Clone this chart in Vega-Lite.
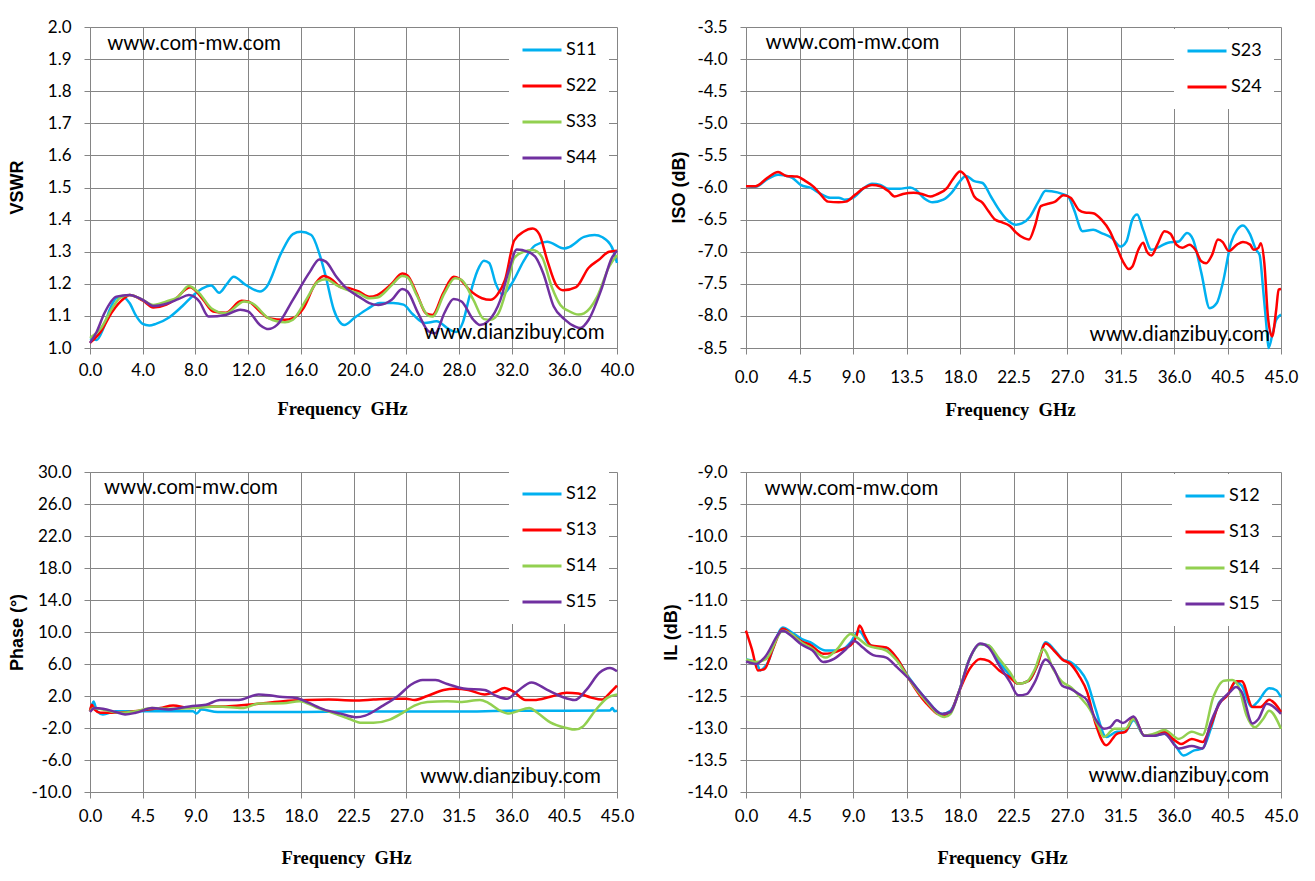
{
  "$schema": "https://vega.github.io/schema/vega-lite/v6.json",
  "description": "Four-port network measurements: VSWR, isolation, phase and insertion loss",
  "padding": {"left": 8, "top": 18, "right": 5, "bottom": 5},
  "background": "white",
  "datasets": {
    "vswr": [
      {"s":"S11","f":0,"v":1.03},{"s":"S11","f":0.5,"v":1.025},{"s":"S11","f":1,"v":1.06},{"s":"S11","f":1.5,"v":1.12},{"s":"S11","f":2,"v":1.155},{"s":"S11","f":2.5,"v":1.16},{"s":"S11","f":3,"v":1.14},{"s":"S11","f":3.5,"v":1.1},{"s":"S11","f":4,"v":1.075},{"s":"S11","f":4.5,"v":1.07},{"s":"S11","f":5,"v":1.075},{"s":"S11","f":6,"v":1.095},{"s":"S11","f":7,"v":1.13},{"s":"S11","f":8,"v":1.17},{"s":"S11","f":8.5,"v":1.185},{"s":"S11","f":9.2,"v":1.195},{"s":"S11","f":9.8,"v":1.172},{"s":"S11","f":10.4,"v":1.2},{"s":"S11","f":10.9,"v":1.222},{"s":"S11","f":11.8,"v":1.197},{"s":"S11","f":12.9,"v":1.176},{"s":"S11","f":13.4,"v":1.19},{"s":"S11","f":14.5,"v":1.295},{"s":"S11","f":15.4,"v":1.355},{"s":"S11","f":16,"v":1.362},{"s":"S11","f":16.8,"v":1.352},{"s":"S11","f":17.4,"v":1.295},{"s":"S11","f":17.9,"v":1.222},{"s":"S11","f":18.5,"v":1.12},{"s":"S11","f":19.3,"v":1.072},{"s":"S11","f":20.1,"v":1.095},{"s":"S11","f":21,"v":1.12},{"s":"S11","f":22,"v":1.14},{"s":"S11","f":23,"v":1.14},{"s":"S11","f":23.8,"v":1.135},{"s":"S11","f":24.5,"v":1.105},{"s":"S11","f":25.4,"v":1.078},{"s":"S11","f":26.3,"v":1.083},{"s":"S11","f":27.3,"v":1.057},{"s":"S11","f":27.8,"v":1.05},{"s":"S11","f":28.3,"v":1.08},{"s":"S11","f":28.8,"v":1.16},{"s":"S11","f":29.4,"v":1.24},{"s":"S11","f":29.9,"v":1.272},{"s":"S11","f":30.3,"v":1.265},{"s":"S11","f":30.8,"v":1.2},{"s":"S11","f":31.3,"v":1.167},{"s":"S11","f":32.1,"v":1.207},{"s":"S11","f":32.9,"v":1.27},{"s":"S11","f":33.8,"v":1.32},{"s":"S11","f":34.7,"v":1.331},{"s":"S11","f":36,"v":1.31},{"s":"S11","f":36.4,"v":1.315},{"s":"S11","f":37.5,"v":1.346},{"s":"S11","f":38.3,"v":1.352},{"s":"S11","f":38.9,"v":1.345},{"s":"S11","f":39.6,"v":1.315},{"s":"S11","f":40,"v":1.265},
      {"s":"S22","f":0,"v":1.016},{"s":"S22","f":0.8,"v":1.05},{"s":"S22","f":1.7,"v":1.114},{"s":"S22","f":2.6,"v":1.155},{"s":"S22","f":3,"v":1.165},{"s":"S22","f":4,"v":1.148},{"s":"S22","f":4.8,"v":1.126},{"s":"S22","f":5.8,"v":1.135},{"s":"S22","f":6.4,"v":1.15},{"s":"S22","f":7.6,"v":1.189},{"s":"S22","f":8.6,"v":1.15},{"s":"S22","f":9.35,"v":1.114},{"s":"S22","f":10.3,"v":1.11},{"s":"S22","f":11.5,"v":1.147},{"s":"S22","f":12,"v":1.145},{"s":"S22","f":12.9,"v":1.114},{"s":"S22","f":13.55,"v":1.093},{"s":"S22","f":14.8,"v":1.088},{"s":"S22","f":15.4,"v":1.093},{"s":"S22","f":16.2,"v":1.124},{"s":"S22","f":17.1,"v":1.2},{"s":"S22","f":17.75,"v":1.224},{"s":"S22","f":18.4,"v":1.212},{"s":"S22","f":19,"v":1.19},{"s":"S22","f":19.8,"v":1.185},{"s":"S22","f":20.4,"v":1.176},{"s":"S22","f":21.2,"v":1.16},{"s":"S22","f":21.8,"v":1.165},{"s":"S22","f":22.9,"v":1.2},{"s":"S22","f":23.7,"v":1.232},{"s":"S22","f":24.1,"v":1.226},{"s":"S22","f":24.8,"v":1.17},{"s":"S22","f":25.5,"v":1.108},{"s":"S22","f":26,"v":1.103},{"s":"S22","f":26.8,"v":1.17},{"s":"S22","f":27.6,"v":1.222},{"s":"S22","f":28,"v":1.217},{"s":"S22","f":28.8,"v":1.181},{"s":"S22","f":29.75,"v":1.155},{"s":"S22","f":30.4,"v":1.15},{"s":"S22","f":30.9,"v":1.165},{"s":"S22","f":31.5,"v":1.212},{"s":"S22","f":32.2,"v":1.335},{"s":"S22","f":32.9,"v":1.362},{"s":"S22","f":33.6,"v":1.372},{"s":"S22","f":34.1,"v":1.355},{"s":"S22","f":34.7,"v":1.274},{"s":"S22","f":35.4,"v":1.195},{"s":"S22","f":35.9,"v":1.18},{"s":"S22","f":36.9,"v":1.19},{"s":"S22","f":37.85,"v":1.25},{"s":"S22","f":38.6,"v":1.274},{"s":"S22","f":39.4,"v":1.3},{"s":"S22","f":40,"v":1.303},
      {"s":"S33","f":0,"v":1.031},{"s":"S33","f":0.8,"v":1.06},{"s":"S33","f":1.7,"v":1.125},{"s":"S33","f":2.3,"v":1.157},{"s":"S33","f":3,"v":1.165},{"s":"S33","f":4,"v":1.15},{"s":"S33","f":4.8,"v":1.134},{"s":"S33","f":5.8,"v":1.145},{"s":"S33","f":6.7,"v":1.16},{"s":"S33","f":7.5,"v":1.193},{"s":"S33","f":8.3,"v":1.17},{"s":"S33","f":9.2,"v":1.124},{"s":"S33","f":10.3,"v":1.108},{"s":"S33","f":11.7,"v":1.145},{"s":"S33","f":12.3,"v":1.14},{"s":"S33","f":13.55,"v":1.093},{"s":"S33","f":14.8,"v":1.08},{"s":"S33","f":15.4,"v":1.088},{"s":"S33","f":16.4,"v":1.15},{"s":"S33","f":17.3,"v":1.207},{"s":"S33","f":17.9,"v":1.214},{"s":"S33","f":18.7,"v":1.196},{"s":"S33","f":19.5,"v":1.181},{"s":"S33","f":20.4,"v":1.17},{"s":"S33","f":21.2,"v":1.155},{"s":"S33","f":21.8,"v":1.157},{"s":"S33","f":22.9,"v":1.196},{"s":"S33","f":23.7,"v":1.224},{"s":"S33","f":24.1,"v":1.22},{"s":"S33","f":24.8,"v":1.165},{"s":"S33","f":25.7,"v":1.1},{"s":"S33","f":26,"v":1.098},{"s":"S33","f":26.9,"v":1.17},{"s":"S33","f":27.7,"v":1.217},{"s":"S33","f":28.2,"v":1.212},{"s":"S33","f":29.1,"v":1.15},{"s":"S33","f":29.9,"v":1.09},{"s":"S33","f":30.4,"v":1.088},{"s":"S33","f":31,"v":1.108},{"s":"S33","f":31.6,"v":1.181},{"s":"S33","f":32.2,"v":1.28},{"s":"S33","f":32.9,"v":1.3},{"s":"S33","f":33.6,"v":1.305},{"s":"S33","f":34.3,"v":1.284},{"s":"S33","f":35.05,"v":1.19},{"s":"S33","f":35.7,"v":1.134},{"s":"S33","f":36.3,"v":1.116},{"s":"S33","f":37.1,"v":1.104},{"s":"S33","f":37.5,"v":1.108},{"s":"S33","f":38.5,"v":1.16},{"s":"S33","f":39.4,"v":1.253},{"s":"S33","f":40,"v":1.29},
      {"s":"S44","f":0,"v":1.016},{"s":"S44","f":0.5,"v":1.05},{"s":"S44","f":1.1,"v":1.109},{"s":"S44","f":2,"v":1.16},{"s":"S44","f":3,"v":1.165},{"s":"S44","f":4,"v":1.15},{"s":"S44","f":4.8,"v":1.131},{"s":"S44","f":5.8,"v":1.138},{"s":"S44","f":6.7,"v":1.152},{"s":"S44","f":7.5,"v":1.165},{"s":"S44","f":8.3,"v":1.145},{"s":"S44","f":9,"v":1.098},{"s":"S44","f":10.3,"v":1.103},{"s":"S44","f":11.4,"v":1.119},{"s":"S44","f":12,"v":1.114},{"s":"S44","f":12.9,"v":1.072},{"s":"S44","f":13.55,"v":1.059},{"s":"S44","f":14.2,"v":1.072},{"s":"S44","f":15.4,"v":1.15},{"s":"S44","f":16.7,"v":1.238},{"s":"S44","f":17.4,"v":1.276},{"s":"S44","f":17.9,"v":1.269},{"s":"S44","f":18.7,"v":1.222},{"s":"S44","f":19.5,"v":1.185},{"s":"S44","f":20.4,"v":1.16},{"s":"S44","f":21.2,"v":1.14},{"s":"S44","f":21.9,"v":1.134},{"s":"S44","f":22.9,"v":1.15},{"s":"S44","f":23.7,"v":1.184},{"s":"S44","f":24.1,"v":1.176},{"s":"S44","f":24.9,"v":1.109},{"s":"S44","f":25.7,"v":1.052},{"s":"S44","f":26.2,"v":1.046},{"s":"S44","f":26.9,"v":1.109},{"s":"S44","f":27.6,"v":1.153},{"s":"S44","f":28.2,"v":1.145},{"s":"S44","f":29.1,"v":1.088},{"s":"S44","f":29.6,"v":1.072},{"s":"S44","f":30.2,"v":1.083},{"s":"S44","f":31.15,"v":1.15},{"s":"S44","f":31.8,"v":1.243},{"s":"S44","f":32.4,"v":1.307},{"s":"S44","f":33.2,"v":1.3},{"s":"S44","f":33.8,"v":1.284},{"s":"S44","f":34.4,"v":1.233},{"s":"S44","f":35.2,"v":1.129},{"s":"S44","f":36,"v":1.09},{"s":"S44","f":36.8,"v":1.067},{"s":"S44","f":37.2,"v":1.062},{"s":"S44","f":37.85,"v":1.088},{"s":"S44","f":38.8,"v":1.181},{"s":"S44","f":39.6,"v":1.28},{"s":"S44","f":40,"v":1.303}
    ],
    "iso": [
      {"s":"S23","f":0,"v":-5.98},{"s":"S23","f":0.8,"v":-5.99},{"s":"S23","f":1.8,"v":-5.87},{"s":"S23","f":2.7,"v":-5.8},{"s":"S23","f":3.2,"v":-5.81},{"s":"S23","f":3.9,"v":-5.85},{"s":"S23","f":4.6,"v":-5.96},{"s":"S23","f":5.5,"v":-6.01},{"s":"S23","f":6.2,"v":-6.09},{"s":"S23","f":7.1,"v":-6.16},{"s":"S23","f":7.8,"v":-6.16},{"s":"S23","f":8.3,"v":-6.19},{"s":"S23","f":9,"v":-6.16},{"s":"S23","f":9.9,"v":-6.01},{"s":"S23","f":10.6,"v":-5.94},{"s":"S23","f":11.3,"v":-5.96},{"s":"S23","f":12,"v":-6.02},{"s":"S23","f":12.9,"v":-6.02},{"s":"S23","f":13.8,"v":-6},{"s":"S23","f":14.3,"v":-6.04},{"s":"S23","f":15,"v":-6.17},{"s":"S23","f":15.7,"v":-6.23},{"s":"S23","f":16.6,"v":-6.19},{"s":"S23","f":17.3,"v":-6.08},{"s":"S23","f":18,"v":-5.9},{"s":"S23","f":18.5,"v":-5.82},{"s":"S23","f":19.2,"v":-5.9},{"s":"S23","f":19.9,"v":-5.93},{"s":"S23","f":20.6,"v":-6.14},{"s":"S23","f":21.3,"v":-6.35},{"s":"S23","f":22,"v":-6.51},{"s":"S23","f":22.7,"v":-6.58},{"s":"S23","f":23.2,"v":-6.56},{"s":"S23","f":23.9,"v":-6.45},{"s":"S23","f":24.6,"v":-6.22},{"s":"S23","f":25.2,"v":-6.05},{"s":"S23","f":25.7,"v":-6.06},{"s":"S23","f":26.6,"v":-6.1},{"s":"S23","f":27.1,"v":-6.14},{"s":"S23","f":27.6,"v":-6.35},{"s":"S23","f":28.3,"v":-6.68},{"s":"S23","f":29.2,"v":-6.66},{"s":"S23","f":29.9,"v":-6.71},{"s":"S23","f":30.8,"v":-6.79},{"s":"S23","f":31.5,"v":-6.92},{"s":"S23","f":32,"v":-6.84},{"s":"S23","f":32.5,"v":-6.5},{"s":"S23","f":32.9,"v":-6.42},{"s":"S23","f":33.4,"v":-6.66},{"s":"S23","f":34.1,"v":-6.97},{"s":"S23","f":34.8,"v":-6.92},{"s":"S23","f":35.5,"v":-6.86},{"s":"S23","f":36.4,"v":-6.84},{"s":"S23","f":37.1,"v":-6.71},{"s":"S23","f":37.6,"v":-6.81},{"s":"S23","f":38.3,"v":-7.33},{"s":"S23","f":39,"v":-7.88},{"s":"S23","f":39.6,"v":-7.8},{"s":"S23","f":40.1,"v":-7.49},{"s":"S23","f":40.8,"v":-6.86},{"s":"S23","f":41.3,"v":-6.66},{"s":"S23","f":41.8,"v":-6.59},{"s":"S23","f":42.4,"v":-6.73},{"s":"S23","f":42.9,"v":-6.97},{"s":"S23","f":43.2,"v":-7.05},{"s":"S23","f":43.5,"v":-7.59},{"s":"S23","f":43.8,"v":-8.21},{"s":"S23","f":43.95,"v":-8.5},{"s":"S23","f":44.3,"v":-8.27},{"s":"S23","f":44.6,"v":-8.06},{"s":"S23","f":45,"v":-7.98},
      {"s":"S24","f":0,"v":-5.98},{"s":"S24","f":0.8,"v":-5.98},{"s":"S24","f":1.8,"v":-5.85},{"s":"S24","f":2.7,"v":-5.76},{"s":"S24","f":3.4,"v":-5.82},{"s":"S24","f":4.3,"v":-5.83},{"s":"S24","f":5,"v":-5.9},{"s":"S24","f":5.7,"v":-5.99},{"s":"S24","f":6.2,"v":-6.09},{"s":"S24","f":6.9,"v":-6.22},{"s":"S24","f":7.8,"v":-6.23},{"s":"S24","f":8.4,"v":-6.22},{"s":"S24","f":9.2,"v":-6.11},{"s":"S24","f":9.9,"v":-6.01},{"s":"S24","f":10.6,"v":-5.96},{"s":"S24","f":11.3,"v":-5.98},{"s":"S24","f":12,"v":-6.06},{"s":"S24","f":12.5,"v":-6.14},{"s":"S24","f":13.2,"v":-6.1},{"s":"S24","f":14.1,"v":-6.08},{"s":"S24","f":14.8,"v":-6.1},{"s":"S24","f":15.5,"v":-6.14},{"s":"S24","f":16,"v":-6.11},{"s":"S24","f":16.9,"v":-6.01},{"s":"S24","f":17.4,"v":-5.87},{"s":"S24","f":18,"v":-5.75},{"s":"S24","f":18.5,"v":-5.83},{"s":"S24","f":19.2,"v":-6.14},{"s":"S24","f":19.9,"v":-6.24},{"s":"S24","f":20.4,"v":-6.37},{"s":"S24","f":20.95,"v":-6.5},{"s":"S24","f":21.5,"v":-6.54},{"s":"S24","f":22.2,"v":-6.6},{"s":"S24","f":22.7,"v":-6.7},{"s":"S24","f":23.4,"v":-6.79},{"s":"S24","f":23.8,"v":-6.81},{"s":"S24","f":24.3,"v":-6.6},{"s":"S24","f":24.8,"v":-6.29},{"s":"S24","f":25.5,"v":-6.25},{"s":"S24","f":26,"v":-6.22},{"s":"S24","f":26.7,"v":-6.12},{"s":"S24","f":27.3,"v":-6.16},{"s":"S24","f":28,"v":-6.35},{"s":"S24","f":28.5,"v":-6.39},{"s":"S24","f":29.2,"v":-6.4},{"s":"S24","f":29.9,"v":-6.5},{"s":"S24","f":30.6,"v":-6.68},{"s":"S24","f":31.1,"v":-6.89},{"s":"S24","f":31.7,"v":-7.15},{"s":"S24","f":32.2,"v":-7.27},{"s":"S24","f":32.5,"v":-7.23},{"s":"S24","f":33,"v":-6.97},{"s":"S24","f":33.4,"v":-6.86},{"s":"S24","f":33.7,"v":-6.99},{"s":"S24","f":34.1,"v":-7.06},{"s":"S24","f":34.6,"v":-6.89},{"s":"S24","f":35.2,"v":-6.68},{"s":"S24","f":35.7,"v":-6.72},{"s":"S24","f":36.2,"v":-6.89},{"s":"S24","f":36.7,"v":-6.94},{"s":"S24","f":37.3,"v":-6.89},{"s":"S24","f":37.8,"v":-6.97},{"s":"S24","f":38.3,"v":-7.15},{"s":"S24","f":38.7,"v":-7.18},{"s":"S24","f":39.2,"v":-7.05},{"s":"S24","f":39.7,"v":-6.81},{"s":"S24","f":40.1,"v":-6.85},{"s":"S24","f":40.6,"v":-6.99},{"s":"S24","f":41.3,"v":-6.89},{"s":"S24","f":41.8,"v":-6.85},{"s":"S24","f":42.4,"v":-6.89},{"s":"S24","f":42.7,"v":-6.97},{"s":"S24","f":43.1,"v":-6.94},{"s":"S24","f":43.3,"v":-6.87},{"s":"S24","f":43.6,"v":-7.18},{"s":"S24","f":43.9,"v":-8.01},{"s":"S24","f":44.25,"v":-8.32},{"s":"S24","f":44.6,"v":-7.9},{"s":"S24","f":44.8,"v":-7.59},{"s":"S24","f":45,"v":-7.58}
    ],
    "phase": [
      {"s":"S12","f":0,"v":0.1},{"s":"S12","f":0.15,"v":0.8},{"s":"S12","f":0.3,"v":1.3},{"s":"S12","f":0.6,"v":0.1},{"s":"S12","f":1.1,"v":-0.3},{"s":"S12","f":2.2,"v":0.1},{"s":"S12","f":4.3,"v":0.1},{"s":"S12","f":6.5,"v":0.1},{"s":"S12","f":8.8,"v":0.1},{"s":"S12","f":9.1,"v":-0.2},{"s":"S12","f":9.5,"v":0.3},{"s":"S12","f":10.9,"v":0},{"s":"S12","f":14,"v":0},{"s":"S12","f":18,"v":0},{"s":"S12","f":22.5,"v":0.05},{"s":"S12","f":27,"v":0.05},{"s":"S12","f":31.5,"v":0.05},{"s":"S12","f":36,"v":0.15},{"s":"S12","f":40.5,"v":0.15},{"s":"S12","f":44.4,"v":0.2},{"s":"S12","f":44.6,"v":0.5},{"s":"S12","f":44.8,"v":0.1},{"s":"S12","f":45,"v":0.15},
      {"s":"S13","f":0,"v":0.1},{"s":"S13","f":0.15,"v":0.9},{"s":"S13","f":0.4,"v":0.3},{"s":"S13","f":0.9,"v":-0.1},{"s":"S13","f":2.5,"v":-0.1},{"s":"S13","f":4.3,"v":0.2},{"s":"S13","f":6,"v":0.5},{"s":"S13","f":7.1,"v":0.8},{"s":"S13","f":8.5,"v":0.5},{"s":"S13","f":10.2,"v":0.7},{"s":"S13","f":11.6,"v":0.7},{"s":"S13","f":13.4,"v":0.9},{"s":"S13","f":14.8,"v":1.1},{"s":"S13","f":16.5,"v":1.35},{"s":"S13","f":18.6,"v":1.5},{"s":"S13","f":20.4,"v":1.55},{"s":"S13","f":22.5,"v":1.45},{"s":"S13","f":24.2,"v":1.55},{"s":"S13","f":25.6,"v":1.65},{"s":"S13","f":27,"v":1.65},{"s":"S13","f":27.7,"v":1.5},{"s":"S13","f":28.8,"v":2},{"s":"S13","f":30.2,"v":2.75},{"s":"S13","f":31.2,"v":2.9},{"s":"S13","f":32.3,"v":2.75},{"s":"S13","f":33.7,"v":2.2},{"s":"S13","f":34.6,"v":2.5},{"s":"S13","f":35.4,"v":3},{"s":"S13","f":36.1,"v":2.6},{"s":"S13","f":37.2,"v":1.5},{"s":"S13","f":37.9,"v":1.5},{"s":"S13","f":39.3,"v":1.9},{"s":"S13","f":40.7,"v":2.4},{"s":"S13","f":41.7,"v":2.3},{"s":"S13","f":42.8,"v":1.8},{"s":"S13","f":43.7,"v":1.55},{"s":"S13","f":44.4,"v":2.4},{"s":"S13","f":45,"v":3.3},
      {"s":"S14","f":0,"v":0.1},{"s":"S14","f":0.3,"v":0.5},{"s":"S14","f":0.8,"v":0.4},{"s":"S14","f":2.5,"v":-0.1},{"s":"S14","f":3.9,"v":0.1},{"s":"S14","f":5.3,"v":0.5},{"s":"S14","f":7.1,"v":0.4},{"s":"S14","f":8.8,"v":0.5},{"s":"S14","f":10.9,"v":0.7},{"s":"S14","f":13,"v":0.5},{"s":"S14","f":14.4,"v":1.05},{"s":"S14","f":16.5,"v":1.1},{"s":"S14","f":17.9,"v":1.35},{"s":"S14","f":19.3,"v":0.6},{"s":"S14","f":20.7,"v":-0.1},{"s":"S14","f":22.1,"v":-0.85},{"s":"S14","f":23.2,"v":-1.35},{"s":"S14","f":24.2,"v":-1.35},{"s":"S14","f":25.6,"v":-0.95},{"s":"S14","f":26.7,"v":-0.1},{"s":"S14","f":27.7,"v":0.8},{"s":"S14","f":28.8,"v":1.25},{"s":"S14","f":30.5,"v":1.35},{"s":"S14","f":31.6,"v":1.25},{"s":"S14","f":33.3,"v":1.5},{"s":"S14","f":34,"v":1.15},{"s":"S14","f":35.1,"v":0.1},{"s":"S14","f":35.8,"v":-0.2},{"s":"S14","f":36.5,"v":0.1},{"s":"S14","f":37.5,"v":0.5},{"s":"S14","f":38.2,"v":-0.1},{"s":"S14","f":39.3,"v":-1.3},{"s":"S14","f":40.7,"v":-2},{"s":"S14","f":41.4,"v":-2.2},{"s":"S14","f":42.1,"v":-1.8},{"s":"S14","f":43.1,"v":0.1},{"s":"S14","f":44.2,"v":1.8},{"s":"S14","f":45,"v":2.2},
      {"s":"S15","f":0,"v":0},{"s":"S15","f":0.4,"v":0.5},{"s":"S15","f":1.1,"v":0.4},{"s":"S15","f":2.2,"v":0},{"s":"S15","f":3,"v":-0.3},{"s":"S15","f":3.9,"v":-0.1},{"s":"S15","f":5.3,"v":0.5},{"s":"S15","f":6.7,"v":0.3},{"s":"S15","f":8.5,"v":0.7},{"s":"S15","f":9.9,"v":0.9},{"s":"S15","f":11.1,"v":1.5},{"s":"S15","f":12.7,"v":1.5},{"s":"S15","f":14.4,"v":2.2},{"s":"S15","f":15.3,"v":2.1},{"s":"S15","f":16.2,"v":1.9},{"s":"S15","f":17.6,"v":1.75},{"s":"S15","f":18.6,"v":1.2},{"s":"S15","f":20,"v":0.3},{"s":"S15","f":21.4,"v":-0.2},{"s":"S15","f":22.7,"v":-0.65},{"s":"S15","f":23.5,"v":-0.45},{"s":"S15","f":24.9,"v":0.7},{"s":"S15","f":26.3,"v":2},{"s":"S15","f":27.4,"v":3.4},{"s":"S15","f":28.4,"v":4},{"s":"S15","f":29.5,"v":4},{"s":"S15","f":30.5,"v":3.5},{"s":"S15","f":31.9,"v":2.95},{"s":"S15","f":33.7,"v":2.75},{"s":"S15","f":34.7,"v":2},{"s":"S15","f":35.6,"v":1.65},{"s":"S15","f":36.5,"v":2.6},{"s":"S15","f":37.7,"v":3.7},{"s":"S15","f":39,"v":2.8},{"s":"S15","f":40.3,"v":1.9},{"s":"S15","f":41.4,"v":1.5},{"s":"S15","f":42.4,"v":2.8},{"s":"S15","f":43.5,"v":4.9},{"s":"S15","f":44.4,"v":5.5},{"s":"S15","f":45,"v":5.1}
    ],
    "il": [
      {"s":"S12","f":0,"v":-11.93},{"s":"S12","f":0.85,"v":-11.97},{"s":"S12","f":1.2,"v":-12.1},{"s":"S12","f":1.7,"v":-12.02},{"s":"S12","f":3.1,"v":-11.43},{"s":"S12","f":3.8,"v":-11.5},{"s":"S12","f":4.7,"v":-11.61},{"s":"S12","f":5.4,"v":-11.66},{"s":"S12","f":6.7,"v":-11.79},{"s":"S12","f":7.4,"v":-11.79},{"s":"S12","f":8.1,"v":-11.77},{"s":"S12","f":8.8,"v":-11.66},{"s":"S12","f":9.5,"v":-11.48},{"s":"S12","f":10.2,"v":-11.66},{"s":"S12","f":10.9,"v":-11.74},{"s":"S12","f":11.8,"v":-11.75},{"s":"S12","f":12.7,"v":-11.92},{"s":"S12","f":13.7,"v":-12.21},{"s":"S12","f":15.1,"v":-12.54},{"s":"S12","f":16.5,"v":-12.78},{"s":"S12","f":17.2,"v":-12.73},{"s":"S12","f":17.9,"v":-12.44},{"s":"S12","f":18.8,"v":-11.92},{"s":"S12","f":19.7,"v":-11.69},{"s":"S12","f":20.4,"v":-11.71},{"s":"S12","f":21.3,"v":-11.97},{"s":"S12","f":22.2,"v":-12.18},{"s":"S12","f":22.9,"v":-12.31},{"s":"S12","f":23.8,"v":-12.26},{"s":"S12","f":24.5,"v":-12.02},{"s":"S12","f":25.2,"v":-11.66},{"s":"S12","f":25.9,"v":-11.77},{"s":"S12","f":26.6,"v":-11.92},{"s":"S12","f":27.3,"v":-11.97},{"s":"S12","f":28,"v":-12.08},{"s":"S12","f":28.7,"v":-12.28},{"s":"S12","f":29.4,"v":-12.7},{"s":"S12","f":30.3,"v":-13.14},{"s":"S12","f":31.2,"v":-13.06},{"s":"S12","f":31.9,"v":-13.06},{"s":"S12","f":32.6,"v":-12.88},{"s":"S12","f":33.5,"v":-13.12},{"s":"S12","f":34.3,"v":-13.12},{"s":"S12","f":35.2,"v":-13.09},{"s":"S12","f":36.1,"v":-13.27},{"s":"S12","f":36.8,"v":-13.43},{"s":"S12","f":37.7,"v":-13.35},{"s":"S12","f":38.4,"v":-13.32},{"s":"S12","f":39.1,"v":-13.01},{"s":"S12","f":39.8,"v":-12.6},{"s":"S12","f":40.5,"v":-12.49},{"s":"S12","f":41.2,"v":-12.28},{"s":"S12","f":41.7,"v":-12.34},{"s":"S12","f":42.5,"v":-12.67},{"s":"S12","f":43,"v":-12.6},{"s":"S12","f":44,"v":-12.38},{"s":"S12","f":44.6,"v":-12.41},{"s":"S12","f":45,"v":-12.52},
      {"s":"S13","f":0,"v":-11.48},{"s":"S13","f":0.5,"v":-11.77},{"s":"S13","f":1,"v":-12.1},{"s":"S13","f":1.55,"v":-12.08},{"s":"S13","f":2.25,"v":-11.77},{"s":"S13","f":3.1,"v":-11.45},{"s":"S13","f":3.8,"v":-11.53},{"s":"S13","f":4.7,"v":-11.65},{"s":"S13","f":5.4,"v":-11.7},{"s":"S13","f":6.5,"v":-11.84},{"s":"S13","f":7.2,"v":-11.83},{"s":"S13","f":8.1,"v":-11.77},{"s":"S13","f":8.8,"v":-11.71},{"s":"S13","f":9.3,"v":-11.56},{"s":"S13","f":9.55,"v":-11.4},{"s":"S13","f":10,"v":-11.56},{"s":"S13","f":10.5,"v":-11.71},{"s":"S13","f":11.8,"v":-11.74},{"s":"S13","f":12.7,"v":-11.91},{"s":"S13","f":13.7,"v":-12.23},{"s":"S13","f":15.1,"v":-12.6},{"s":"S13","f":16.5,"v":-12.8},{"s":"S13","f":17.2,"v":-12.75},{"s":"S13","f":17.9,"v":-12.44},{"s":"S13","f":18.8,"v":-12.08},{"s":"S13","f":19.7,"v":-11.92},{"s":"S13","f":20.4,"v":-11.95},{"s":"S13","f":21.3,"v":-12.1},{"s":"S13","f":22.2,"v":-12.21},{"s":"S13","f":22.9,"v":-12.31},{"s":"S13","f":23.8,"v":-12.26},{"s":"S13","f":24.5,"v":-12.02},{"s":"S13","f":25.2,"v":-11.68},{"s":"S13","f":25.9,"v":-11.79},{"s":"S13","f":26.6,"v":-11.93},{"s":"S13","f":27.3,"v":-12},{"s":"S13","f":28,"v":-12.18},{"s":"S13","f":28.7,"v":-12.44},{"s":"S13","f":29.4,"v":-12.93},{"s":"S13","f":30.3,"v":-13.27},{"s":"S13","f":31.2,"v":-13.09},{"s":"S13","f":31.9,"v":-13.06},{"s":"S13","f":32.6,"v":-12.83},{"s":"S13","f":33.5,"v":-13.12},{"s":"S13","f":34.3,"v":-13.12},{"s":"S13","f":35.2,"v":-13.06},{"s":"S13","f":35.9,"v":-13.17},{"s":"S13","f":36.6,"v":-13.25},{"s":"S13","f":37.5,"v":-13.17},{"s":"S13","f":38.4,"v":-13.22},{"s":"S13","f":39.1,"v":-12.96},{"s":"S13","f":39.8,"v":-12.62},{"s":"S13","f":40.5,"v":-12.49},{"s":"S13","f":41.2,"v":-12.27},{"s":"S13","f":41.7,"v":-12.27},{"s":"S13","f":42.6,"v":-12.67},{"s":"S13","f":43.3,"v":-12.67},{"s":"S13","f":44,"v":-12.56},{"s":"S13","f":45,"v":-12.75},
      {"s":"S14","f":0,"v":-11.93},{"s":"S14","f":0.85,"v":-11.97},{"s":"S14","f":1.7,"v":-11.92},{"s":"S14","f":3.1,"v":-11.48},{"s":"S14","f":3.8,"v":-11.53},{"s":"S14","f":4.7,"v":-11.67},{"s":"S14","f":5.4,"v":-11.74},{"s":"S14","f":6.7,"v":-11.9},{"s":"S14","f":7.7,"v":-11.76},{"s":"S14","f":8.8,"v":-11.53},{"s":"S14","f":9.3,"v":-11.58},{"s":"S14","f":10.2,"v":-11.71},{"s":"S14","f":11.8,"v":-11.79},{"s":"S14","f":12.7,"v":-11.95},{"s":"S14","f":13.7,"v":-12.23},{"s":"S14","f":15.1,"v":-12.57},{"s":"S14","f":16.7,"v":-12.83},{"s":"S14","f":17.2,"v":-12.78},{"s":"S14","f":17.9,"v":-12.44},{"s":"S14","f":18.8,"v":-11.92},{"s":"S14","f":19.7,"v":-11.69},{"s":"S14","f":20.4,"v":-11.71},{"s":"S14","f":21.3,"v":-11.92},{"s":"S14","f":22.2,"v":-12.13},{"s":"S14","f":22.9,"v":-12.31},{"s":"S14","f":23.6,"v":-12.28},{"s":"S14","f":24.3,"v":-12.08},{"s":"S14","f":25,"v":-11.77},{"s":"S14","f":25.9,"v":-12.1},{"s":"S14","f":26.6,"v":-12.28},{"s":"S14","f":27.3,"v":-12.36},{"s":"S14","f":28.2,"v":-12.54},{"s":"S14","f":28.9,"v":-12.7},{"s":"S14","f":29.6,"v":-12.96},{"s":"S14","f":30.1,"v":-13.14},{"s":"S14","f":31,"v":-13.01},{"s":"S14","f":31.9,"v":-13.01},{"s":"S14","f":32.6,"v":-12.86},{"s":"S14","f":33.5,"v":-13.12},{"s":"S14","f":34.3,"v":-13.09},{"s":"S14","f":35.2,"v":-13.03},{"s":"S14","f":36.4,"v":-13.17},{"s":"S14","f":37.5,"v":-13.06},{"s":"S14","f":38.4,"v":-13.11},{"s":"S14","f":39.3,"v":-12.52},{"s":"S14","f":40.2,"v":-12.26},{"s":"S14","f":40.9,"v":-12.25},{"s":"S14","f":41.4,"v":-12.34},{"s":"S14","f":42.1,"v":-12.8},{"s":"S14","f":42.8,"v":-12.99},{"s":"S14","f":43.5,"v":-12.86},{"s":"S14","f":44,"v":-12.73},{"s":"S14","f":45,"v":-13.01},
      {"s":"S15","f":0,"v":-11.96},{"s":"S15","f":0.85,"v":-12},{"s":"S15","f":1.55,"v":-11.9},{"s":"S15","f":3.1,"v":-11.48},{"s":"S15","f":3.8,"v":-11.56},{"s":"S15","f":4.7,"v":-11.7},{"s":"S15","f":5.6,"v":-11.79},{"s":"S15","f":6.5,"v":-11.97},{"s":"S15","f":7.4,"v":-11.92},{"s":"S15","f":8.4,"v":-11.77},{"s":"S15","f":9.1,"v":-11.64},{"s":"S15","f":9.8,"v":-11.74},{"s":"S15","f":10.7,"v":-11.86},{"s":"S15","f":11.8,"v":-11.9},{"s":"S15","f":12.7,"v":-12.05},{"s":"S15","f":13.7,"v":-12.23},{"s":"S15","f":15.1,"v":-12.54},{"s":"S15","f":16.5,"v":-12.78},{"s":"S15","f":17.2,"v":-12.75},{"s":"S15","f":17.9,"v":-12.44},{"s":"S15","f":18.8,"v":-11.92},{"s":"S15","f":19.7,"v":-11.68},{"s":"S15","f":20.4,"v":-11.74},{"s":"S15","f":21.3,"v":-12.02},{"s":"S15","f":22.2,"v":-12.28},{"s":"S15","f":22.9,"v":-12.49},{"s":"S15","f":23.6,"v":-12.47},{"s":"S15","f":24.3,"v":-12.28},{"s":"S15","f":25.2,"v":-11.93},{"s":"S15","f":25.9,"v":-12.08},{"s":"S15","f":26.6,"v":-12.34},{"s":"S15","f":27.3,"v":-12.39},{"s":"S15","f":28,"v":-12.47},{"s":"S15","f":28.7,"v":-12.57},{"s":"S15","f":29.4,"v":-12.86},{"s":"S15","f":30.1,"v":-13.01},{"s":"S15","f":30.6,"v":-12.99},{"s":"S15","f":31.2,"v":-12.88},{"s":"S15","f":31.7,"v":-12.92},{"s":"S15","f":32.6,"v":-12.82},{"s":"S15","f":33.5,"v":-13.12},{"s":"S15","f":34.3,"v":-13.12},{"s":"S15","f":35.2,"v":-13.09},{"s":"S15","f":36.4,"v":-13.32},{"s":"S15","f":37.5,"v":-13.28},{"s":"S15","f":38.4,"v":-13.32},{"s":"S15","f":39.1,"v":-12.91},{"s":"S15","f":40,"v":-12.57},{"s":"S15","f":40.7,"v":-12.44},{"s":"S15","f":41.2,"v":-12.36},{"s":"S15","f":41.7,"v":-12.44},{"s":"S15","f":42.6,"v":-12.93},{"s":"S15","f":43.1,"v":-12.86},{"s":"S15","f":43.8,"v":-12.62},{"s":"S15","f":45,"v":-12.78}
    ]
  },
  "columns": 2,
  "spacing": {"row": 124, "column": 129},
  "bounds": "flush",
  "resolve": {"scale": {"color": "independent"}, "legend": {"color": "independent"}},
  "concat": [
    {
      "width": 527,
      "height": 321,
      "encoding": {
        "x": {"field": "f", "type": "quantitative", "scale": {"domain": [0, 40], "nice": false, "zero": false},
          "axis": {"values": [0, 4, 8, 12, 16, 20, 24, 28, 32, 36, 40], "format": ".1f", "title": "Frequency\u00a0\u00a0GHz", "labelPadding": 8, "titleX": 252, "titleY": 60, "titleAlign": "center", "titleBaseline": "middle"}},
        "y": {"field": "v", "type": "quantitative", "scale": {"domain": [1, 2], "nice": false, "zero": false},
          "axis": {"values": [1, 1.1, 1.2, 1.3, 1.4, 1.5, 1.6, 1.7, 1.8, 1.9, 2], "format": ".1f", "title": "VSWR", "titleX": -73, "titleY": 160, "titleBaseline": "middle", "titleAlign": "center"}}
      },
      "layer": [
        {
          "data": {"name": "vswr"},
          "mark": {"type": "line", "strokeWidth": 2.5, "interpolate": "monotone"},
          "encoding": {
            "color": {"field": "s", "type": "nominal",
              "scale": {"domain": ["S11", "S22", "S33", "S44"], "range": ["#00B0F0", "#FF0000", "#92D050", "#7030A0"]},
              "legend": {"orient": "none", "legendX": 419, "legendY": 1}}
          }
        },
        {
          "data": {"values": [{"f": 1.3, "v": 1.948, "t": "www.com-mw.com"}, {"f": 25.35, "v": 1.048, "t": "www.dianzibuy.com"}]},
          "mark": {"type": "text", "align": "left", "baseline": "middle", "font": "Lato", "fontSize": 20.5, "color": "#000000"},
          "encoding": {"text": {"field": "t"}}
        }
      ]
    },
    {
      "width": 535,
      "height": 321,
      "encoding": {
        "x": {"field": "f", "type": "quantitative", "scale": {"domain": [0, 45], "nice": false, "zero": false},
          "axis": {"values": [0, 4.5, 9, 13.5, 18, 22.5, 27, 31.5, 36, 40.5, 45], "format": ".1f", "title": "Frequency\u00a0\u00a0GHz", "labelPadding": 15, "titleX": 264, "titleY": 61, "titleAlign": "center", "titleBaseline": "middle"}},
        "y": {"field": "v", "type": "quantitative", "scale": {"domain": [-8.5, -3.5], "nice": false, "zero": false},
          "axis": {"values": [-8.5, -8, -7.5, -7, -6.5, -6, -5.5, -5, -4.5, -4, -3.5], "format": ".1f", "title": "ISO (dB)", "titleX": -67, "titleY": 160, "titleBaseline": "middle", "titleAlign": "center"}}
      },
      "layer": [
        {
          "data": {"name": "iso"},
          "mark": {"type": "line", "strokeWidth": 2.5, "interpolate": "monotone"},
          "encoding": {
            "color": {"field": "s", "type": "nominal",
              "scale": {"domain": ["S23", "S24"], "range": ["#00B0F0", "#FF0000"]},
              "legend": {"orient": "none", "legendX": 428, "legendY": 2}}
          }
        },
        {
          "data": {"values": [{"f": 1.65, "v": -3.75, "t": "www.com-mw.com"}, {"f": 28.9, "v": -8.29, "t": "www.dianzibuy.com"}]},
          "mark": {"type": "text", "align": "left", "baseline": "middle", "font": "Lato", "fontSize": 20.5, "color": "#000000"},
          "encoding": {"text": {"field": "t"}}
        }
      ]
    },
    {
      "width": 527,
      "height": 320,
      "encoding": {
        "x": {"field": "f", "type": "quantitative", "scale": {"domain": [0, 45], "nice": false, "zero": false},
          "axis": {"values": [0, 4.5, 9, 13.5, 18, 22.5, 27, 31.5, 36, 40.5, 45], "format": ".1f", "title": "Frequency\u00a0\u00a0GHz", "labelPadding": 10, "titleX": 256, "titleY": 65, "titleAlign": "center", "titleBaseline": "middle"}},
        "y": {"field": "v", "type": "quantitative", "scale": {"domain": [-10, 30], "nice": false, "zero": false},
          "axis": {"values": [-10, -6, -2, 2, 6, 10, 14, 18, 22, 26, 30], "format": ".1f", "title": "Phase (°)", "titleX": -73, "titleY": 160, "titleBaseline": "middle", "titleAlign": "center"}}
      },
      "layer": [
        {
          "data": {"name": "phase"},
          "mark": {"type": "line", "strokeWidth": 2.5, "interpolate": "monotone"},
          "encoding": {
            "color": {"field": "s", "type": "nominal",
              "scale": {"domain": ["S12", "S13", "S14", "S15"], "range": ["#00B0F0", "#FF0000", "#92D050", "#7030A0"]},
              "legend": {"orient": "none", "legendX": 419, "legendY": 0}}
          }
        },
        {
          "data": {"values": [{"f": 1.19, "v": 28.05, "t": "www.com-mw.com"}, {"f": 28.2, "v": -8.1, "t": "www.dianzibuy.com"}]},
          "mark": {"type": "text", "align": "left", "baseline": "middle", "font": "Lato", "fontSize": 20.5, "color": "#000000"},
          "encoding": {"text": {"field": "t"}}
        }
      ]
    },
    {
      "width": 535,
      "height": 320,
      "encoding": {
        "x": {"field": "f", "type": "quantitative", "scale": {"domain": [0, 45], "nice": false, "zero": false},
          "axis": {"values": [0, 4.5, 9, 13.5, 18, 22.5, 27, 31.5, 36, 40.5, 45], "format": ".1f", "title": "Frequency\u00a0\u00a0GHz", "labelPadding": 10, "titleX": 256, "titleY": 65, "titleAlign": "center", "titleBaseline": "middle"}},
        "y": {"field": "v", "type": "quantitative", "scale": {"domain": [-14, -9], "nice": false, "zero": false},
          "axis": {"values": [-14, -13.5, -13, -12.5, -12, -11.5, -11, -10.5, -10, -9.5, -9], "format": ".1f", "title": "IL (dB)", "titleX": -75, "titleY": 160, "titleBaseline": "middle", "titleAlign": "center"}}
      },
      "layer": [
        {
          "data": {"name": "il"},
          "mark": {"type": "line", "strokeWidth": 2.5, "interpolate": "monotone"},
          "encoding": {
            "color": {"field": "s", "type": "nominal",
              "scale": {"domain": ["S12", "S13", "S14", "S15"], "range": ["#00B0F0", "#FF0000", "#92D050", "#7030A0"]},
              "legend": {"orient": "none", "legendX": 426, "legendY": 2}}
          }
        },
        {
          "data": {"values": [{"f": 1.55, "v": -9.26, "t": "www.com-mw.com"}, {"f": 28.8, "v": -13.75, "t": "www.dianzibuy.com"}]},
          "mark": {"type": "text", "align": "left", "baseline": "middle", "font": "Lato", "fontSize": 20.5, "color": "#000000"},
          "encoding": {"text": {"field": "t"}}
        }
      ]
    }
  ],
  "config": {
    "view": {"stroke": null},
    "locale": {"number": {"decimal": ".", "thousands": ",", "grouping": [3], "currency": ["", ""], "minus": "-"}},
    "axis": {
      "grid": true,
      "gridColor": "#858585",
      "gridWidth": 1,
      "gridOpacity": 1,
      "domainColor": "#858585",
      "domainWidth": 1,
      "tickColor": "#858585",
      "tickSize": 6,
      "labelFont": "Lato",
      "labelFontSize": 17,
      "labelColor": "#000000",
      "labelFlush": false,
      "labelOverlap": false,
      "titleColor": "#000000"
    },
    "axisX": {"titleFont": "Liberation Serif", "titleFontSize": 18.5, "titleFontWeight": "bold"},
    "axisY": {"labelPadding": 13, "titleFont": "Liberation Sans", "titleFontSize": 18, "titleFontWeight": "bold"},
    "legend": {
      "title": null,
      "symbolType": "stroke",
      "symbolSize": 1521,
      "symbolStrokeWidth": 3,
      "labelFont": "Lato",
      "labelFontSize": 18,
      "labelColor": "#000000",
      "labelOffset": 3,
      "fillColor": "white",
      "padding": 12,
      "rowPadding": 16,
      "clipHeight": 20
    }
  }
}
